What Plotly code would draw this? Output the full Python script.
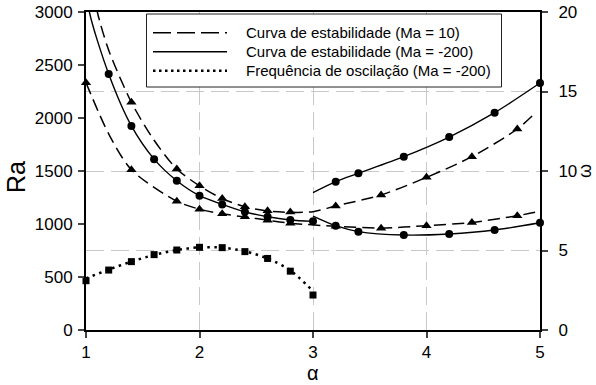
import plotly.graph_objects as go

# ---------------- data ----------------
# Ma = 10, upper branch (dashed, triangles) - continuous curve
ma10_up_line_x = [1.07, 1.10, 1.2, 1.4, 1.6, 1.8, 2.0, 2.2, 2.4, 2.6, 2.8, 3.0, 3.2, 3.6, 4.0, 4.4, 4.8, 4.94]
ma10_up_line_y = [3200, 3000, 2640, 2148, 1790, 1519, 1360, 1240, 1162, 1122, 1110, 1116, 1170, 1274, 1440, 1635, 1896, 2028]
ma10_up_mark_x = [1.4, 1.8, 2.0, 2.2, 2.4, 2.6, 2.8, 3.2, 3.6, 4.0, 4.4, 4.8]
ma10_up_mark_y = [2148, 1519, 1360, 1240, 1162, 1124, 1114, 1170, 1274, 1440, 1635, 1896]

# Ma = 10, lower branch (dashed, triangles)
ma10_lo_line_x = [1.0, 1.2, 1.4, 1.8, 2.0, 2.2, 2.4, 2.6, 2.8, 3.2, 3.6, 4.0, 4.4, 4.8, 5.0]
ma10_lo_line_y = [2333, 1850, 1512, 1214, 1140, 1096, 1066, 1036, 1008, 978, 962, 984, 1015, 1078, 1120]
ma10_lo_mark_x = [1.0, 1.4, 1.8, 2.0, 2.2, 2.4, 2.6, 2.8, 3.2, 3.6, 4.0, 4.4, 4.8]
ma10_lo_mark_y = [2333, 1512, 1214, 1140, 1096, 1069, 1035, 1006, 978, 959, 984, 1015, 1078]

# Ma = -200, left branch (solid, circles)
ma200_left_line_x = [1.0, 1.03, 1.2, 1.4, 1.6, 1.8, 2.0, 2.2, 2.4, 2.6, 2.8, 3.0]
ma200_left_line_y = [3300, 3000, 2415, 1925, 1612, 1408, 1267, 1185, 1115, 1068, 1038, 1025]
ma200_left_mark_x = [1.2, 1.4, 1.6, 1.8, 2.0, 2.2, 2.4, 2.6, 2.8, 3.0]
ma200_left_mark_y = [2415, 1925, 1612, 1408, 1267, 1185, 1115, 1068, 1038, 1025]

# Ma = -200, right lower branch (solid, circles)
ma200_rlo_line_x = [3.0, 3.2, 3.4, 3.8, 4.2, 4.6, 5.0]
ma200_rlo_line_y = [1075, 984, 928, 896, 906, 943, 1012]
ma200_rlo_mark_x = [3.2, 3.4, 3.8, 4.2, 4.6, 5.0]
ma200_rlo_mark_y = [984, 928, 896, 906, 943, 1012]

# Ma = -200, right upper branch (solid, circles)
ma200_rup_line_x = [3.0, 3.2, 3.4, 3.8, 4.2, 4.6, 5.0]
ma200_rup_line_y = [1295, 1399, 1478, 1635, 1820, 2050, 2330]
ma200_rup_mark_x = [3.2, 3.4, 3.8, 4.2, 4.6, 5.0]
ma200_rup_mark_y = [1399, 1478, 1635, 1820, 2050, 2330]

# oscillation frequency (Ma = -200), right axis
freq_x = [1.0, 1.2, 1.4, 1.6, 1.8, 2.0, 2.2, 2.4, 2.6, 2.8, 3.0]
freq_mark_y = [3.1, 3.77, 4.3, 4.74, 5.03, 5.2, 5.18, 4.93, 4.5, 3.7, 2.2]
freq_line_y = [3.25, 3.8, 4.3, 4.72, 5.03, 5.2, 5.18, 4.95, 4.5, 3.75, 2.45]

legend_labels = ["Curva de estabilidade (Ma = 10)",
                 "Curva de estabilidade (Ma = -200)",
                 "Frequência de oscilação (Ma = -200)"]
x_title, y_title, y2_title = "α", "Ra", "ω"

x_ticks = [1, 2, 3, 4, 5]
y_ticks = [0, 500, 1000, 1500, 2000, 2500, 3000]
y2_ticks = [0, 5, 10, 15, 20]

# ---------------- styling ----------------
FONT = "Liberation Sans, Arial, sans-serif"
DASH = "12px,6px"
DOT = "2.5px,4.5px"
W, H = 596, 385
L, R, T, B = 86, 56, 12, 55

fig = go.Figure()

def line(x, y, dash, width=1.4, yaxis="y"):
    fig.add_trace(go.Scatter(x=x, y=y, mode="lines", yaxis=yaxis, showlegend=False,
                             line=dict(color="black", width=width, dash=dash, shape="spline", smoothing=0.8),
                             hoverinfo="skip"))

def marks(x, y, symbol, size, yaxis="y"):
    fig.add_trace(go.Scatter(x=x, y=y, mode="markers", yaxis=yaxis, showlegend=False,
                             marker=dict(color="black", symbol=symbol, size=size, line=dict(width=0)),
                             cliponaxis=False))

line(ma10_up_line_x, ma10_up_line_y, DASH, 1.5)
line(ma10_lo_line_x, ma10_lo_line_y, DASH, 1.5)
line(ma200_left_line_x, ma200_left_line_y, "solid", 1.4)
line(ma200_rlo_line_x, ma200_rlo_line_y, "solid", 1.4)
line(ma200_rup_line_x, ma200_rup_line_y, "solid", 1.4)
line(freq_x, freq_line_y, DOT, 2.5, yaxis="y2")

marks(ma10_up_mark_x, ma10_up_mark_y, "triangle-up", 9)
marks(ma10_lo_mark_x, ma10_lo_mark_y, "triangle-up", 9)
marks(ma200_left_mark_x, ma200_left_mark_y, "circle", 8)
marks(ma200_rlo_mark_x, ma200_rlo_mark_y, "circle", 8)
marks(ma200_rup_mark_x, ma200_rup_mark_y, "circle", 8)
marks(freq_x, freq_mark_y, "square", 7, yaxis="y2")

# ---------------- manual legend & axis titles ----------------
pw, ph = W - L - R, H - T - B
def px(xp):
    return (xp - L) / pw
def py(yp):
    return (H - B - yp) / ph

fig.add_shape(type="rect", xref="paper", yref="paper",
              x0=px(146.5), x1=px(501.5), y0=py(87), y1=py(14),
              line=dict(color="#222", width=1), fillcolor="white", layer="above")
rows = [32.7, 51.7, 70.7]
styles = [("18px,6px", 1.5), ("solid", 1.4), ("2.5px,3.5px", 2.5)]
for yy, (d, w), lab in zip(rows, styles, legend_labels):
    fig.add_shape(type="line", xref="paper", yref="paper",
                  x0=px(153), x1=px(227), y0=py(yy), y1=py(yy),
                  line=dict(color="black", width=w, dash=d), layer="above")
    fig.add_annotation(xref="paper", yref="paper", x=px(244), y=py(yy), text=lab,
                       showarrow=False, xanchor="left", yanchor="middle",
                       font=dict(family=FONT, size=15, color="black"))

fig.add_annotation(xref="paper", yref="paper", x=px(16), y=py(177), text=y_title,
                   textangle=-90, showarrow=False, xanchor="center", yanchor="middle",
                   font=dict(family=FONT, size=25, color="black"))
fig.add_annotation(xref="paper", yref="paper", x=px(313), y=py(373), text=x_title,
                   showarrow=False, xanchor="center", yanchor="middle", borderpad=0,
                   font=dict(family=FONT, size=20, color="black"))
fig.add_annotation(xref="paper", yref="paper", x=px(585), y=py(171), text=y2_title,
                   textangle=-90, showarrow=False, xanchor="center", yanchor="middle", borderpad=0,
                   width=14, height=16,
                   font=dict(family=FONT, size=18, color="black"))

grid = dict(color="#c8c8c8", width=1.2, dash="18px,7px")

fig.update_layout(
    width=W, height=H,
    margin=dict(l=L, r=R, t=T, b=B, autoexpand=False),
    paper_bgcolor="white", plot_bgcolor="white",
    font=dict(family=FONT, size=17, color="black"),
    xaxis=dict(range=[1, 5], tickvals=x_ticks, ticks="outside", ticklen=6, tickwidth=1.5,
               showline=True, linecolor="black", linewidth=2, mirror=True, automargin=False,
               showgrid=True, gridcolor=grid["color"], gridwidth=grid["width"], griddash=grid["dash"],
               zeroline=False, ticklabelstandoff=0, tickfont=dict(size=17)),
    yaxis=dict(range=[0, 3000], tickvals=y_ticks, ticks="outside", ticklen=6, tickwidth=1.5,
               showline=True, linecolor="black", linewidth=2, showgrid=False, zeroline=False,
               ticklabelstandoff=2, automargin=False, tickfont=dict(size=17)),
    yaxis2=dict(range=[0, 20], tickvals=y2_ticks, ticks="outside", ticklen=6, tickwidth=1.5,
                overlaying="y", side="right", showline=True, linecolor="black", linewidth=2,
                showgrid=True, gridcolor=grid["color"], gridwidth=grid["width"], griddash=grid["dash"],
                zeroline=False, ticklabelstandoff=7, automargin=False, tickfont=dict(size=17)),
)

fig.write_html("out.html")
